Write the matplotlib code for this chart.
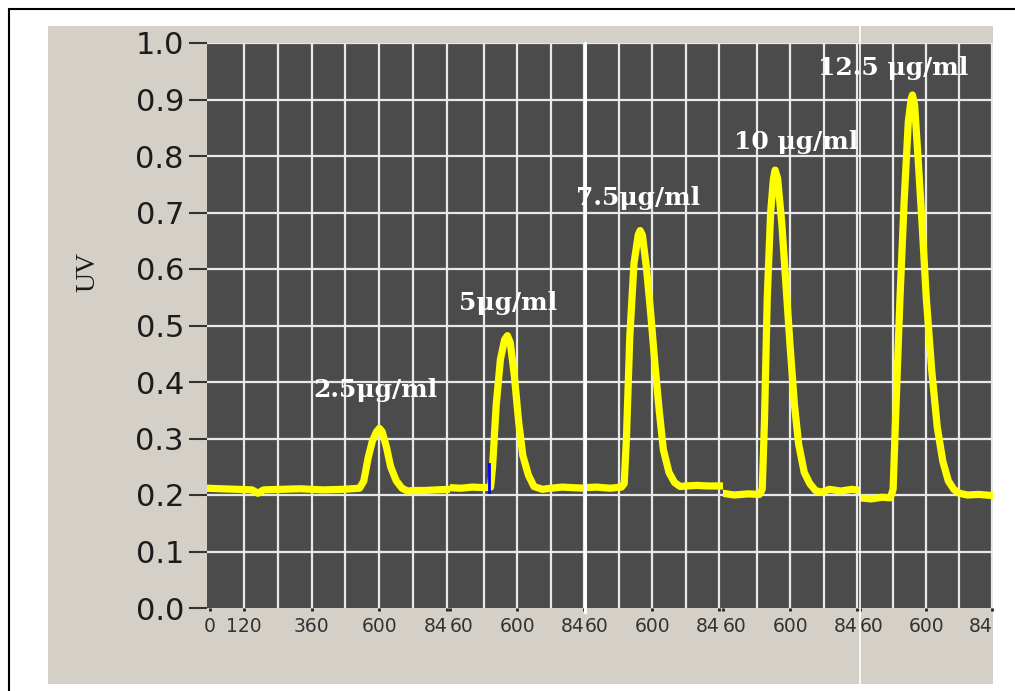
import matplotlib
matplotlib.use('Agg')
import matplotlib.pyplot as plt
from matplotlib.patches import Rectangle
from matplotlib.lines import Line2D

W, H = 1015, 691

# one chromatogram per concentration (time, UV)
t_25 = [-10, 40, 100, 150, 170, 190, 250, 320, 400, 470, 530, 545, 560, 575, 590, 600,
        610, 625, 640, 660, 680, 700, 720, 760, 800, 850]
uv_25 = [0.212, 0.211, 0.210, 0.209, 0.203, 0.209, 0.210, 0.211, 0.209, 0.210, 0.212, 0.225,
         0.265, 0.295, 0.312, 0.318, 0.312, 0.285, 0.250, 0.225, 0.212, 0.207, 0.208, 0.208,
         0.209, 0.210]

t_5 = [360, 400, 440, 480, 505, 512, 525, 540, 555, 565, 575, 590, 605, 620, 640, 660,
       690, 720, 760, 800, 842]
uv_5 = [0.213, 0.212, 0.214, 0.213, 0.214, 0.25, 0.36, 0.44, 0.475, 0.482, 0.47, 0.41,
        0.33, 0.27, 0.235, 0.215, 0.210, 0.212, 0.214, 0.213, 0.212]

t_75 = [360, 400, 450, 490, 500, 508, 520, 535, 550, 557, 565, 580, 595, 610, 625, 640,
        660, 680, 700, 720, 760, 800, 853]
uv_75 = [0.213, 0.214, 0.212, 0.214, 0.22, 0.30, 0.48, 0.61, 0.66, 0.668, 0.66, 0.60,
         0.52, 0.43, 0.35, 0.28, 0.24, 0.222, 0.215, 0.216, 0.217, 0.216, 0.216]

t_10 = [360, 400, 450, 490, 500, 508, 518, 530, 540, 546, 555, 570, 585, 600, 615, 630,
        650, 670, 690, 710, 740, 780, 820, 849]
uv_10 = [0.203, 0.200, 0.202, 0.201, 0.21, 0.33, 0.55, 0.70, 0.76, 0.775, 0.76, 0.68,
         0.57, 0.46, 0.36, 0.29, 0.24, 0.22, 0.208, 0.205, 0.210, 0.207, 0.210, 0.208]

t_125 = [360, 400, 440, 470, 480, 490, 505, 520, 535, 545, 550, 558, 570, 585, 600, 620,
         640, 660, 680, 700, 720, 750, 790, 842]
uv_125 = [0.195, 0.193, 0.196, 0.195, 0.21, 0.35, 0.55, 0.72, 0.86, 0.90, 0.908, 0.89,
          0.80, 0.68, 0.55, 0.42, 0.32, 0.26, 0.225, 0.21, 0.203, 0.200, 0.201, 0.199]

traces = [(t_25, uv_25), (t_5, uv_5), (t_75, uv_75), (t_10, uv_10), (t_125, uv_125)]

conc_labels = ['2.5μg/ml', '5μg/ml', '7.5μg/ml', '10 μg/ml', '12.5 μg/ml']
label_t = [585, 568, 550, 620, 480]
label_uv = [0.386, 0.54, 0.726, 0.825, 0.956]

# tick texts as they show in the stitched screenshot (neighbouring panels cut them)
x_ticks = [[0, 120, 360, 600, 840], [360, 600, 840], [360, 600, 840], [360, 600, 840], [360, 600, 840]]
x_tick_labels = [['0', '120', '360', '600', '84'], ['60', '600', '84'], ['60', '600', '84'],
                 ['60', '600', '84'], ['60', '600', '84']]
x_grid = [[120, 240, 360, 480, 600, 720, 840], [480, 600, 720, 840], [480, 600, 720, 840],
          [480, 600, 720, 840], [480, 600, 720, 840]]
y_ticks = [0.0, 0.1, 0.2, 0.3, 0.4, 0.5, 0.6, 0.7, 0.8, 0.9, 1.0]
y_tick_labels = ['0.0', '0.1', '0.2', '0.3', '0.4', '0.5', '0.6', '0.7', '0.8', '0.9', '1.0']

# layout of the stitched panels, in pixels
panel_px = [(207, 450), (450, 585), (585, 723), (723, 860), (860, 993)]
panel_xlim = [(-10, 850), (360, 842), (360, 853), (360, 849), (360, 842)]
plot_top, plot_bottom = 43, 608


def fx(px):
    return px / W


def fy(py):
    return 1 - py / H


fig = plt.figure(figsize=(W / 100, H / 100), dpi=100)
fig.patch.set_facecolor('white')

# outer frame and the grey window background
fig.add_artist(Rectangle((fx(9), fy(700)), fx(1030) - fx(9), fy(9) - fy(700),
                         transform=fig.transFigure, facecolor='white', edgecolor='black',
                         lw=1.5, clip_on=False, zorder=-2))
fig.add_artist(Rectangle((fx(48), fy(684)), fx(993) - fx(48), fy(26) - fy(684),
                         transform=fig.transFigure, facecolor='#d4d0c8', edgecolor='none',
                         zorder=-1))

for i, (x0, x1) in enumerate(panel_px):
    ax = fig.add_axes([fx(x0), fy(plot_bottom), (x1 - x0) / W, (plot_bottom - plot_top) / H])
    ax.set_facecolor('#4b4b4b')
    for s in ax.spines.values():
        s.set_visible(False)
    ax.set_xlim(*panel_xlim[i])
    ax.set_ylim(0, 1)

    for g in x_grid[i]:
        ax.axvline(g, color='#e8e8e8', lw=1.6, zorder=1)
    for g in y_ticks[1:]:
        ax.axhline(g, color='#e8e8e8', lw=1.6, zorder=1)

    t, uv = traces[i]
    ax.plot(t, uv, color='#ffff00', lw=5.2, solid_joinstyle='round', zorder=3)

    ax.text(label_t[i], label_uv[i], conc_labels[i], color='white', fontsize=18,
            fontweight='bold', family='DejaVu Serif', ha='center', va='center',
            clip_on=False, zorder=5)

    ax.set_xticks(x_ticks[i], labels=x_tick_labels[i])
    ax.tick_params(axis='x', length=2.5, width=2, color='#222222', labelsize=13.5, pad=4,
                   labelcolor='#333333')
    labs = ax.get_xticklabels()
    labs[-1].set_ha('right')
    if i > 0:
        labs[0].set_ha('left')

    if i == 0:
        ax.set_yticks(y_ticks, labels=y_tick_labels)
        ax.tick_params(axis='y', length=13, width=1.5, color='#333333', labelsize=22,
                       pad=3.6, labelcolor='#1c1c1c')
    else:
        ax.set_yticks([])

    if i == 1:
        # small blue mark left over at the start of the 5 ug/ml run
        ax.plot([499, 499], [0.205, 0.255], color='#0000ff', lw=2, zorder=4)

# seams between the pasted screenshots
fig.add_artist(Line2D([fx(585), fx(585)], [fy(43), fy(612)], color='white', lw=2.2, zorder=10))
fig.add_artist(Line2D([fx(860), fx(860)], [fy(26), fy(691)], color='white', lw=1.2, zorder=10))

fig.text(fx(88), fy(272), 'UV', rotation=90, family='Liberation Serif', fontsize=20,
         ha='center', va='center', color='#1a1a1a')

fig.savefig('out.png', dpi=100)
